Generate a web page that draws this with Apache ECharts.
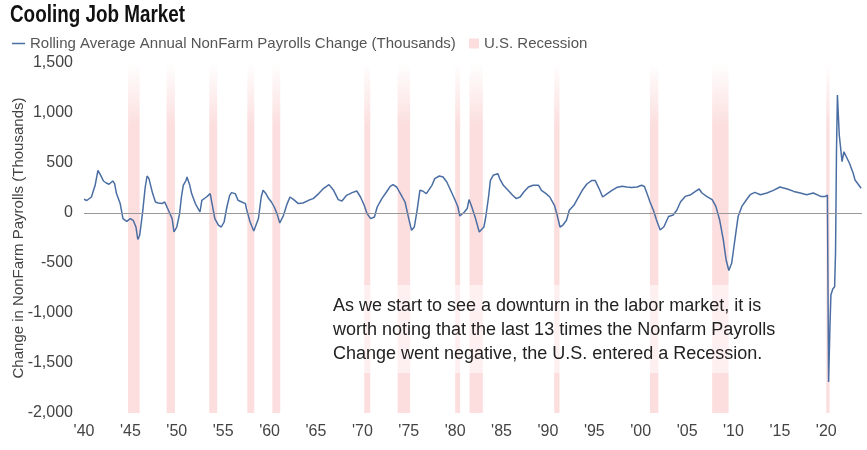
<!DOCTYPE html>
<html>
<head>
<meta charset="utf-8">
<script src="https://cdn.jsdelivr.net/npm/echarts@6/dist/echarts.min.js"></script>
<style>
html,body{margin:0;padding:0;background:#fff;}
#chart{width:867px;height:450px;}
</style>
</head>
<body>
<div id="chart"></div>
<script>
// ---- Data ----
const years = [
1940.0,1940.3,1940.5,1940.8,1941.2,1941.5,1941.8,1942.1,1942.4,1942.7,1943.1,1943.3,1943.5,1943.9,
1944.2,1944.6,1945.0,1945.3,1945.6,1945.8,1946.0,1946.3,1946.6,1946.8,1947.0,1947.2,1947.4,1947.7,
1948.0,1948.4,1948.7,1949.1,1949.5,1949.7,1950.0,1950.3,1950.5,1950.7,1951.0,1951.1,1951.4,1951.6,
1952.0,1952.2,1952.5,1952.7,1953.2,1953.4,1953.6,1953.8,1954.1,1954.5,1954.8,1955.1,1955.4,1955.7,
1955.9,1956.3,1956.6,1957.0,1957.4,1957.5,1957.9,1958.3,1958.5,1958.8,1959.1,1959.3,1959.6,1959.9,
1960.2,1960.5,1960.8,1961.1,1961.5,1961.9,1962.2,1962.6,1963.1,1963.6,1964.2,1964.7,1965.3,1965.8,
1966.4,1966.9,1967.4,1967.8,1968.3,1968.9,1969.4,1969.8,1970.2,1970.5,1970.9,1971.3,1971.6,1972.1,
1972.6,1973.0,1973.3,1973.7,1974.1,1974.6,1975.0,1975.3,1975.6,1975.9,1976.2,1976.5,1976.9,1977.5,
1977.8,1978.3,1978.7,1979.1,1979.6,1980.0,1980.3,1980.5,1981.0,1981.3,1981.5,1981.8,1982.2,1982.6,
1982.8,1983.1,1983.3,1983.6,1983.8,1984.1,1984.6,1984.8,1985.2,1985.7,1986.2,1986.6,1987.0,1987.4,
1987.9,1988.4,1989.0,1989.3,1989.8,1990.2,1990.7,1991.0,1991.3,1991.6,1992.0,1992.3,1992.8,1993.2,
1993.7,1994.2,1994.7,1995.1,1995.5,1995.9,1996.4,1996.9,1997.4,1998.0,1998.5,1999.0,1999.6,2000.1,
2000.4,2000.8,2001.0,2001.4,2001.7,2002.1,2002.5,2003.0,2003.5,2003.9,2004.3,2004.8,2005.4,2005.9,
2006.3,2006.6,2007.1,2007.7,2008.1,2008.5,2008.9,2009.2,2009.5,2009.8,2010.0,2010.2,2010.5,2010.9,
2011.4,2011.8,2012.3,2012.9,2013.6,2014.3,2015.0,2015.8,2016.5,2017.2,2017.9,2018.6,2019.4,2019.9,
2020.12,2020.25,2020.4,2020.5,2020.7,2020.9,2021.0,2021.1,2021.2,2021.4,2021.7,2021.9,2022.1,2022.5,
2022.9,2023.1,2023.5,2023.75
];
const payrolls = [
137,125,120,160,277,427,377,320,300,287,320,294,194,94,
-56,-83,-56,-73,-140,-265,-223,-6,260,370,344,327,194,110,
100,94,110,27,-56,-190,-140,-6,160,277,327,360,277,194,
94,77,10,127,160,167,194,94,-56,-123,-140,-90,60,177,
204,194,127,110,94,44,-90,-180,-173,-56,160,227,194,144,
110,60,-6,-100,-23,94,160,134,94,100,127,144,194,244,
284,227,134,120,177,204,220,160,77,-6,-56,-40,60,144,
210,267,284,260,194,110,-56,-173,-140,27,227,220,194,277,
344,370,360,310,210,127,60,-30,10,44,134,60,-56,-190,
-210,-140,-40,160,327,377,394,344,277,227,177,144,160,210,
260,277,277,227,194,160,77,-23,-140,-123,-73,27,77,144,
227,290,324,324,247,160,194,227,254,267,260,254,260,277,
265,166,110,20,-70,-170,-137,-35,-20,30,113,166,183,216,
240,200,166,133,66,-67,-267,-467,-575,-503,-370,-234,-34,66,
133,183,206,183,200,226,260,240,216,200,183,200,166,166,
180,-1690,-1120,-820,-760,-737,-387,613,1180,780,513,613,597,497,
397,330,280,247
];
const recessionStart = [1944.75,1948.9,1953.5,1957.6,1960.3,1970.2,1973.8,1980.0,1981.55,1990.67,2001.0,2007.7,2020.0];
const recessionEnd   = [1946.0, 1949.8,1954.35,1958.35,1961.15,1970.85,1975.15,1980.54,1982.99,1991.25,2001.9,2009.47,2020.35];
const yTicks = [-2000,-1500,-1000,-500,0,500,1000,1500];
const xTickYears = [1940,1945,1950,1955,1960,1965,1970,1975,1980,1985,1990,1995,2000,2005,2010,2015,2020];
const titleText = 'Cooling Job Market';
const seriesName = 'Rolling Average Annual NonFarm Payrolls Change (Thousands)';
const recessionName = 'U.S. Recession';
const noteLines = [
  'As we start to see a downturn in the labor market, it is',
  'worth noting that the last 13 times the Nonfarm Payrolls',
  'Change went negative, the U.S. entered a Recession.'
];

// ---- Build ----
const lineData = years.map((y, i) => [y, payrolls[i]]);
const pink = '#fcdede';
const bandColor = new echarts.graphic.LinearGradient(0, 0, 0, 1, [
  {offset: 0, color: 'rgba(252,222,222,0)'},
  {offset: 0.18, color: 'rgba(252,222,222,1)'},
  {offset: 1, color: 'rgba(252,222,222,1)'}
]);
const areas = recessionStart.map((s, i) => [{xAxis: s}, {xAxis: recessionEnd[i]}]);

const font = "'Liberation Sans', Arial, sans-serif";
const chart = echarts.init(document.getElementById('chart'), null, {renderer: 'canvas'});
chart.setOption({
  animation: false,
  backgroundColor: '#fff',
  legend: [
    {
      data: [{name: seriesName, icon: 'rect'}],
      left: 7, top: 31,
      itemWidth: 13, itemHeight: 1.5, itemGap: 5,
      textStyle: {fontFamily: font, fontSize: 15, color: '#555'},
      selectedMode: false
    },
    {
      data: [{name: recessionName, icon: 'rect'}],
      left: 464, top: 31,
      itemWidth: 10, itemHeight: 10,
      textStyle: {fontFamily: font, fontSize: 15, color: '#555'},
      selectedMode: false
    }
  ],
  grid: {left: 84, right: 5, top: 63, bottom: 37, containLabel: false, outerBoundsMode: 'none'},
  xAxis: {
    type: 'value',
    min: 1940, max: 2023.85, interval: 5,
    axisLine: {show: false}, axisTick: {show: false}, splitLine: {show: false},
    axisLabel: {
      showMaxLabel: false,
      margin: 11,
      fontFamily: font, fontSize: 16, color: '#444',
      formatter: v => xTickYears.indexOf(v) >= 0 ? "'" + String(v).slice(2) : ''
    }
  },
  yAxis: {
    type: 'value',
    min: yTicks[0], max: yTicks[yTicks.length - 1], interval: 500,
    axisLine: {show: false}, axisTick: {show: false}, splitLine: {show: false},
    name: 'Change in NonFarm Payrolls (Thousands)',
    nameLocation: 'middle', nameGap: 58, nameRotate: 90, nameMoveOverlap: false,
    nameTextStyle: {fontFamily: font, fontSize: 15, color: '#444'},
    axisLabel: {
      margin: 11, fontFamily: font, fontSize: 16, color: '#444',
      formatter: v => v.toLocaleString('en-US')
    }
  },
  series: [
    {
      name: recessionName,
      type: 'line',
      data: [],
      itemStyle: {color: pink},
      lineStyle: {color: pink},
      markArea: {
        silent: true,
        itemStyle: {color: bandColor},
        data: areas
      },
      z: 1
    },
    {
      name: seriesName,
      type: 'line',
      data: lineData,
      showSymbol: false,
      symbol: 'none',
      color: '#4a6ea3',
      lineStyle: {color: '#4a6ea3', width: 1.5},
      markLine: {
        silent: true, symbol: 'none',
        label: {show: false},
        lineStyle: {color: '#999', width: 1, type: 'solid'},
        data: [{yAxis: 0}]
      },
      z: 3
    }
  ],
  graphic: [
    {
      type: 'text', z: 60,
      x: 10, y: 4, scaleX: 0.82,
      style: {
        text: titleText,
        fontFamily: font, fontWeight: 'bold', fontSize: 23,
        fill: '#111'
      }
    },
    {
      type: 'rect', z: 50,
      shape: {x: 322, y: 285, width: 470, height: 88},
      style: {fill: 'rgba(255,255,255,0.55)'}
    },
    {
      type: 'text', z: 51,
      x: 333, y: 294,
      style: {
        text: noteLines.join('\n'),
        fontFamily: font, fontSize: 18, lineHeight: 24,
        fill: '#222'
      }
    }
  ]
});
</script>
</body>
</html>
